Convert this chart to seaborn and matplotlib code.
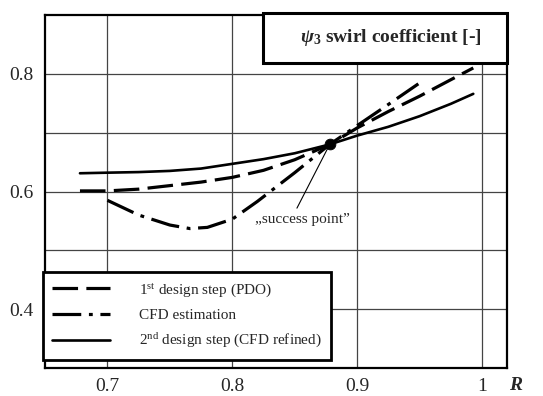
import matplotlib
matplotlib.use("Agg")
import matplotlib.pyplot as plt
import seaborn as sns
import numpy as np
import pandas as pd
from matplotlib.patches import Rectangle
from matplotlib.ticker import FixedLocator

# ---- data ----
r_pdo = [0.678, 0.70, 0.725, 0.75, 0.775, 0.80, 0.825, 0.85, 0.878, 0.90, 0.925, 0.95, 0.975, 0.993]
psi_pdo = [0.601, 0.601, 0.604, 0.610, 0.616, 0.624, 0.636, 0.654, 0.680, 0.708, 0.736, 0.762, 0.790, 0.810]

r_cfd = [0.700, 0.725, 0.75, 0.766, 0.78, 0.80, 0.82, 0.85, 0.878, 0.90, 0.925, 0.949]
psi_cfd = [0.585, 0.560, 0.543, 0.537, 0.539, 0.553, 0.583, 0.632, 0.680, 0.712, 0.748, 0.783]

r_ref = [0.678, 0.70, 0.725, 0.75, 0.775, 0.80, 0.825, 0.85, 0.878, 0.90, 0.925, 0.95, 0.975, 0.993]
psi_ref = [0.631, 0.632, 0.633, 0.635, 0.639, 0.647, 0.655, 0.665, 0.680, 0.695, 0.710, 0.728, 0.749, 0.766]

success_r = [0.878]
success_psi = [0.680]

labels = [r"1$^{\mathrm{st}}$ design step (PDO)",
          "CFD estimation",
          r"2$^{\mathrm{nd}}$ design step (CFD refined)"]
title_text = "$\\mathit{\u03c8}_{\\mathbf{3}}$ swirl coefficient [-]"
x_ticks = [0.7, 0.8, 0.9, 1.0]
x_ticklabels = ["0.7", "0.8", "0.9", "1"]
y_ticks = [0.4, 0.6, 0.8]
y_ticklabels = ["0.4", "0.6", "0.8"]
y_minor = [0.5, 0.7]

# ---- style ----
sns.set_style("white")
plt.rcParams["font.family"] = ["Liberation Serif", "DejaVu Serif"]
plt.rcParams["mathtext.fontset"] = "custom"
plt.rcParams["mathtext.rm"] = "Liberation Serif"
plt.rcParams["mathtext.it"] = "Liberation Serif:italic:bold"
plt.rcParams["mathtext.bf"] = "Liberation Serif:bold"

fig = plt.figure(figsize=(5.43, 3.96), dpi=100)
ax = fig.add_axes([45/543, 1-368/396, (507-45)/543, (368-15)/396])

sns.lineplot(x=r_pdo, y=psi_pdo, ax=ax, color="black", lw=2.3, sort=False,
             estimator=None, linestyle=(0, (8, 2.6)), label=labels[0], zorder=3)
sns.lineplot(x=r_cfd, y=psi_cfd, ax=ax, color="black", lw=2.3, sort=False,
             estimator=None, linestyle=(0, (9, 2.4, 1.2, 2.4)), label=labels[1], zorder=3)
sns.lineplot(x=r_ref, y=psi_ref, ax=ax, color="black", lw=1.9, sort=False,
             estimator=None, linestyle="-", label=labels[2], zorder=3)
sns.scatterplot(x=success_r, y=success_psi, ax=ax, color="black", s=60,
                edgecolor="black", zorder=5, legend=False)

ax.annotate("\u201esuccess point\u201d", xy=(success_r[0], success_psi[0]),
            xytext=(0.818, 0.553), fontsize=11, va="center", ha="left",
            arrowprops=dict(arrowstyle="-", lw=0.8, color="black",
                            relpos=(0.42, 1.0), shrinkA=1, shrinkB=0))

ax.set_xlim(0.65, 1.02)
ax.set_ylim(0.3, 0.9)
ax.xaxis.set_major_locator(FixedLocator(x_ticks))
ax.set_xticklabels(x_ticklabels)
ax.yaxis.set_major_locator(FixedLocator(y_ticks))
ax.set_yticklabels(y_ticklabels)
ax.yaxis.set_minor_locator(FixedLocator(y_minor))
ax.tick_params(axis="both", which="both", length=0, labelsize=14, pad=8)
ax.tick_params(axis="x", pad=7)
ax.grid(True, which="both", color="#444444", lw=0.9)
ax.set_axisbelow(True)
for s in ax.spines.values():
    s.set_visible(True)
    s.set_color("black")
    s.set_linewidth(1.6)
ax.set_xlabel("")
ax.set_ylabel("")

fig.text(516/543, 1-385/396, "R", fontsize=14, fontweight="bold",
         fontstyle="italic", ha="center", va="center")

# title box
box = Rectangle((263/543, 1-63/396), (507-263)/543, (63-13)/396,
                transform=fig.transFigure, facecolor="white", edgecolor="black",
                lw=2.2, zorder=10)
fig.patches.append(box)
fig.text(391/543, 1-38/396, title_text,
         fontsize=14, fontweight="bold", ha="center", va="center", zorder=11)

leg = ax.legend(loc="lower left", bbox_to_anchor=(42.5/543, 1-359.5/396),
                bbox_transform=fig.transFigure, borderaxespad=0, fontsize=11,
                frameon=True, fancybox=False, framealpha=1, edgecolor="black",
                handlelength=3.8, handletextpad=1.9, labelspacing=0.65,
                borderpad=0.6)
leg.get_frame().set_linewidth(2.0)
leg.set_zorder(10)

fig.savefig("out.png", dpi=100)
